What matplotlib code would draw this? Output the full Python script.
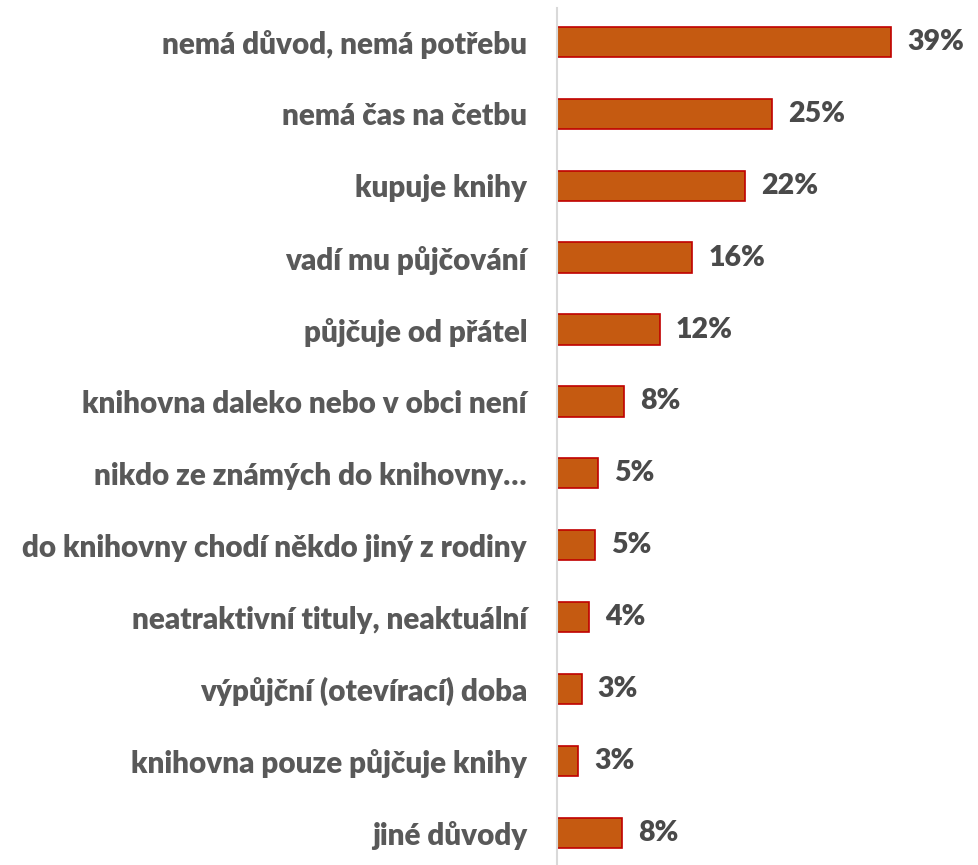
import matplotlib
matplotlib.use("Agg")
import matplotlib.pyplot as plt

categories = [
    "nemá důvod, nemá potřebu",
    "nemá čas na četbu",
    "kupuje knihy",
    "vadí mu půjčování",
    "půjčuje od přátel",
    "knihovna daleko nebo v obci není",
    "nikdo ze známých do knihovny…",
    "do knihovny chodí někdo jiný z rodiny",
    "neatraktivní tituly, neaktuální",
    "výpůjční (otevírací) doba",
    "knihovna pouze půjčuje knihy",
    "jiné důvody",
]
values = [39.0, 25.1, 22.0, 15.8, 12.0, 7.8, 4.8, 4.4, 3.7, 2.9, 2.5, 7.6]
labels = ["39%", "25%", "22%", "16%", "12%", "8%", "5%", "5%", "4%", "3%", "3%", "8%"]

plt.rcParams['font.family'] = ['Lato', 'DejaVu Sans']
W, H = 979, 865
fig = plt.figure(figsize=(W / 100, H / 100), dpi=100)
ax_left = 557 / W
ax = fig.add_axes([ax_left, 0, 1 - ax_left, 1 - 8 / H])

n = len(categories)
ypos = list(range(n))
ax.barh(ypos, values, height=0.42, color="#C55A11", edgecolor="#C00000", linewidth=1.2)
ax.set_ylim(n - 1 + 0.445, -0.47)
ax.set_xlim(0, 422 / 8.56)

for y, v, lab in zip(ypos, values, labels):
    ax.annotate(lab, (v, y), xytext=(16, 0), textcoords="offset pixels",
                va="center", ha="left", fontsize=20.5, fontweight="heavy", color="#4A4A4A")

ax.set_yticks(ypos)
ax.set_yticklabels(categories, fontsize=21.3, fontweight="heavy", color="#595959")
ax.tick_params(axis="y", length=0, pad=21.6)
ax.set_xticks([])
for s in ["top", "right", "bottom"]:
    ax.spines[s].set_visible(False)
ax.spines["left"].set_color("#D9D9D9")
ax.spines["left"].set_linewidth(1.5)

fig.savefig("out.png", dpi=100)
